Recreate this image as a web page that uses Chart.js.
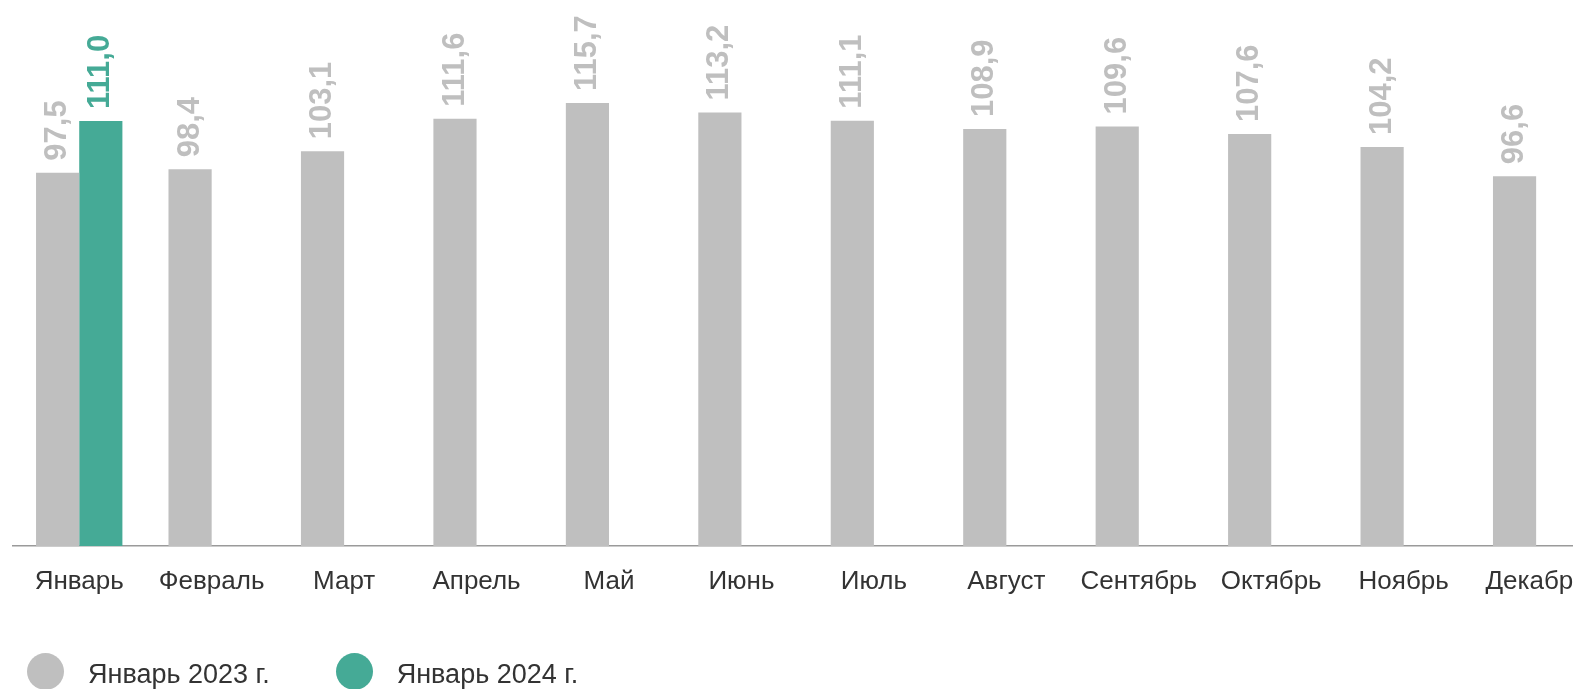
<!DOCTYPE html>
<html lang="ru">
<head>
<meta charset="utf-8">
<script src="https://cdn.jsdelivr.net/npm/chart.js@4.4.1/dist/chart.umd.min.js"></script>
<style>
    html, body { margin: 0; padding: 0; background: #fff; overflow: hidden; }
    body { width: 1573px; height: 689px; position: relative; font-family: "Liberation Sans", Arial, sans-serif; }
    #wrap { position: absolute; left: 0; top: 0; width: 1607px; height: 689px; }
    #legend { position: absolute; left: 27px; top: 653px; display: flex; align-items: center; font-size: 27px; color: #333; }
    .item { display: flex; align-items: center; }
    .dot { width: 37px; height: 37px; border-radius: 50%; margin-right: 24px; }
    .txt { position: relative; top: 3px; }
</style>
</head>
<body>
<div id="wrap"><canvas id="chart"></canvas></div>
<div id="legend"></div>
<script>
// Chart data
const months = ['Январь', 'Февраль', 'Март', 'Апрель', 'Май', 'Июнь', 'Июль', 'Август', 'Сентябрь', 'Октябрь', 'Ноябрь', 'Декабрь'];
const values2023 = [97.5, 98.4, 103.1, 111.6, 115.7, 113.2, 111.1, 108.9, 109.6, 107.6, 104.2, 96.6];
const values2024 = [111.0, null, null, null, null, null, null, null, null, null, null, null];
const seriesNames = ['Январь 2023 г.', 'Январь 2024 г.'];
const seriesColors = ['#bfbfbf', '#45aa96'];

// Rotated value labels above bars
const valueLabels = {
    id: 'valueLabels',
    afterDatasetsDraw(chart) {
        const ctx = chart.ctx;
        ctx.save();
        ctx.font = 'bold 31px "Liberation Sans", Arial, sans-serif';
        ctx.textBaseline = 'middle';
        ctx.textAlign = 'left';
        chart.data.datasets.forEach((ds, i) => {
            const meta = chart.getDatasetMeta(i);
            meta.data.forEach((bar, j) => {
                const v = ds.data[j];
                if (v === null || v === undefined) return;
                ctx.save();
                ctx.fillStyle = ds.backgroundColor;
                ctx.translate(bar.x, bar.y - 12);
                ctx.rotate(-Math.PI / 2);
                ctx.fillText(v.toFixed(1).replace('.', ','), 0, 0);
                ctx.restore();
            });
        });
        ctx.restore();
    }
};

function initChart() {
    const ctx = document.getElementById('chart').getContext('2d');
    new Chart(ctx, {
        type: 'bar',
        data: {
            labels: months,
            datasets: [
                { label: seriesNames[0], data: values2023, backgroundColor: seriesColors[0], borderWidth: 0 },
                { label: seriesNames[1], data: values2024, backgroundColor: seriesColors[1], borderWidth: 0 }
            ]
        },
        options: {
            responsive: true,
            maintainAspectRatio: false,
            animation: false,
            categoryPercentage: 0.652,
            barPercentage: 1.0,
            layout: { padding: { left: 13, right: 4, top: 10, bottom: 83 } },
            scales: {
                x: {
                    grid: { display: false, drawTicks: false },
                    border: { display: true, color: '#9a9a9a', width: 1.5 },
                    ticks: {
                        color: '#333',
                        padding: 20,
                        autoSkip: false,
                        maxRotation: 0,
                        font: { family: '"Liberation Sans", Arial, sans-serif', size: 26 }
                    },
                    afterFit(axis) { axis.height = 60; }
                },
                y: { display: false, min: 0, max: 140 }
            },
            plugins: { legend: { display: false }, tooltip: { enabled: false } }
        },
        plugins: [valueLabels]
    });

    // HTML legend
    const legend = document.getElementById('legend');
    seriesNames.forEach((name, i) => {
        const item = document.createElement('div');
        item.className = 'item';
        item.style.marginRight = i === 0 ? '66px' : '0';
        item.innerHTML = `<span class="dot" style="background:${seriesColors[i]}"></span><span class="txt">${name}</span>`;
        legend.appendChild(item);
    });
}

document.addEventListener('DOMContentLoaded', initChart);
</script>
</body>
</html>
